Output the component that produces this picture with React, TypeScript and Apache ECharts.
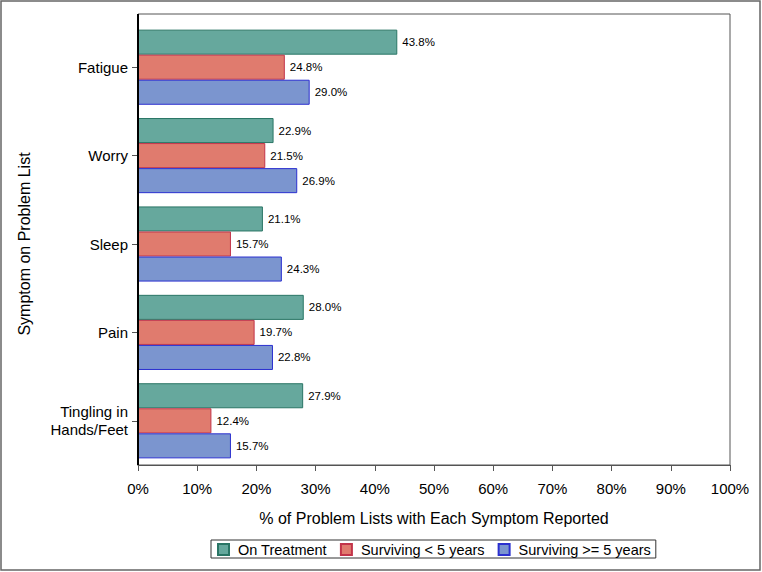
import React, { useEffect, useRef } from "react";
import * as echarts from "echarts";

const categories = ["Fatigue", "Worry", "Sleep", "Pain", "Tingling in\nHands/Feet"];
const seriesNames = ["On Treatment", "Surviving < 5 years", "Surviving >= 5 years"];
const onTreatment = [43.8, 22.9, 21.1, 28.0, 27.9];
const survivingLt5 = [24.8, 21.5, 15.7, 19.7, 12.4];
const survivingGe5 = [29.0, 26.9, 24.3, 22.8, 15.7];
const xTicks = [0, 10, 20, 30, 40, 50, 60, 70, 80, 90, 100];

const fills = ["#66A89D", "#E07B6E", "#7B95CF"];
const borders = ["#2A7565", "#C2344A", "#2B30CF"];

export default function App() {
  const ref = useRef<HTMLDivElement>(null);
  useEffect(() => {
    if (!ref.current) return;
    const chart = echarts.init(ref.current, undefined, { renderer: "svg" });
    const dataSets = [onTreatment, survivingLt5, survivingGe5];
    const font = "'Liberation Sans', Arial, sans-serif";
    const gLeft = 138;
    const gWidth = 592;
    const frameTop = 14;
    const axisTop = 23;
    const gBottom = 465;
    chart.setOption({
      animation: false,
      textStyle: { fontFamily: font },
      graphic: [
        {
          type: "rect",
          shape: { x: 1, y: 1, width: 759, height: 569 },
          style: { fill: "none", stroke: "#666", lineWidth: 1.5 },
          silent: true,
        },
        {
          type: "rect",
          shape: { x: gLeft, y: frameTop, width: gWidth, height: gBottom - frameTop },
          style: { fill: "none", stroke: "#555", lineWidth: 1 },
          silent: true,
          z: 10,
        },
        {
          type: "line",
          shape: { x1: gLeft, y1: frameTop, x2: gLeft, y2: gBottom },
          style: { stroke: "#000", lineWidth: 2 },
          silent: true,
          z: 11,
        },
      ],
      grid: {
        left: gLeft,
        top: axisTop,
        width: gWidth,
        height: gBottom - axisTop,
        show: false,
      },
      legend: {
        data: seriesNames,
        top: 540,
        left: 211,
        itemWidth: 11,
        itemHeight: 11,
        itemGap: 13,
        borderColor: "#333",
        borderWidth: 1,
        padding: [2, 5, 1, 6],
        textStyle: { fontSize: 14.5, color: "#000", fontFamily: font, padding: [0, 0, 0, 4] },
        icon: "rect",
      },
      xAxis: {
        type: "value",
        min: 0,
        max: 100,
        interval: 10,
        name: "% of Problem Lists with Each Symptom Reported",
        nameLocation: "middle",
        nameGap: 45,
        nameTextStyle: { fontSize: 16, color: "#000", fontFamily: font },
        axisLine: { show: true, lineStyle: { color: "#555", width: 1 } },
        axisTick: { show: true, length: 6, lineStyle: { color: "#555" } },
        axisLabel: {
          fontSize: 15,
          color: "#000",
          margin: 16,
          formatter: (v: number) => (xTicks.includes(v) ? v + "%" : ""),
        },
        splitLine: { show: false },
      },
      yAxis: {
        type: "category",
        data: categories,
        inverse: true,
        name: "Symptom on Problem List",
        nameLocation: "middle",
        nameRotate: 90,
        nameGap: 106,
        nameTextStyle: { fontSize: 16, color: "#000", fontFamily: font },
        axisLine: { show: false },
        axisTick: { show: true, alignWithLabel: true, length: 6, lineStyle: { color: "#555" } },
        axisLabel: { fontSize: 15, color: "#000", margin: 10, lineHeight: 18 },
      },
      series: seriesNames.map((name, i) => ({
        name,
        type: "bar",
        data: dataSets[i],
        barGap: "0%",
        barCategoryGap: "15%",
        itemStyle: { color: fills[i], borderColor: borders[i], borderWidth: 1 },
        label: {
          show: true,
          position: "right",
          distance: 5,
          fontSize: 11.5,
          color: "#000",
          formatter: (p: any) => Number(p.value).toFixed(1) + "%",
        },
      })),
    });
    return () => chart.dispose();
  }, []);
  return (
    <div
      ref={ref}
      style={{ position: "fixed", left: 0, top: 0, width: 762, height: 572, background: "#fff" }}
    />
  );
}
